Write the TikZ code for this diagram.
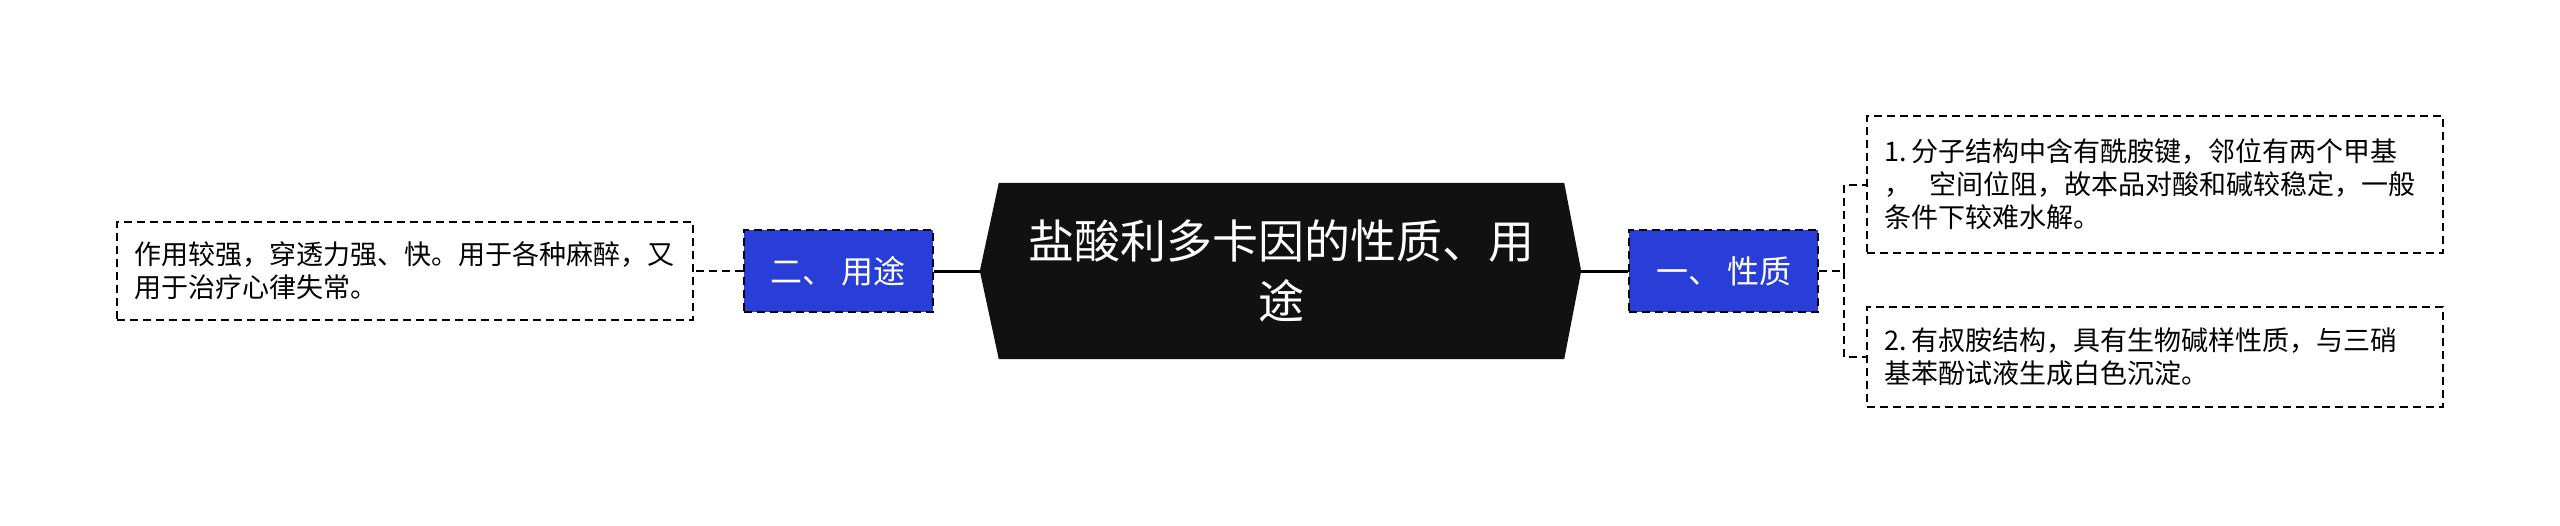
\documentclass[tikz,border=0pt]{standalone}
\usepackage{fontspec}
\setmainfont{Noto Sans CJK SC}
\usetikzlibrary{positioning}
\definecolor{branchblue}{RGB}{40,62,215}
\definecolor{topicblack}{RGB}{17,17,17}
\pgfdeclarelayer{background}
\pgfsetlayers{background,main}

\begin{document}
\begin{tikzpicture}[x=1pt, y=-1pt,
    topic/.style={rectangle, minimum width=565pt, minimum height=176pt, inner sep=0pt, align=center, text=white, font=\fontsize{46pt}{60pt}\selectfont},
    branch/.style={rectangle, draw, dash pattern=on 8pt off 5pt, line width=2pt, fill=branchblue, text=white, minimum width=189pt, minimum height=82pt, inner sep=0pt, font=\fontsize{32pt}{38pt}\selectfont},
    detail/.style={rectangle, draw, dash pattern=on 8pt off 5pt, line width=1.6pt, fill=white, text width=542pt, inner sep=17pt, align=left, font=\fontsize{27pt}{33pt}\selectfont},
    trunk/.style={line width=3pt},
    link/.style={line width=2pt, dash pattern=on 8pt off 5pt},
    node distance=64pt
  ]
    \useasboundingbox (0,0) rectangle (2560,525);

    % Centre topic
    \node[topic] (topic) at (1281.5,271) {盐酸利多卡因的性质、用\\途};
    \coordinate (tipL) at ([xshift=-19pt]topic.west);
    \coordinate (tipR) at ([xshift=17pt]topic.east);
    \begin{pgfonlayer}{background}
      \fill[topicblack] (topic.north west) -- (topic.north east) -- (tipR)
        -- (topic.south east) -- (topic.south west) -- (tipL) -- cycle;
    \end{pgfonlayer}

    % Branches
    \node[branch, right=of topic] (prop) {一、 性质};
    \node[branch, left=65pt of topic] (use) {二、 用途};

    % Details
    \node[detail, left=49pt of use, minimum height=98pt] (useText) {
      作用较强，穿透力强、快。用于各种麻醉，又\\
      用于治疗心律失常。
    };
    \node[detail, right=47pt of prop, yshift=86.5pt, minimum height=137pt] (propOne) {
      1.\hspace{5pt}分子结构中含有酰胺键，邻位有两个甲基\\
      ，\ \ 空间位阻，故本品对酸和碱较稳定，一般\\
      条件下较难水解。
    };
    \node[detail, right=47pt of prop, yshift=-86pt, minimum height=100pt] (propTwo) {
      2.\hspace{5pt}有叔胺结构，具有生物碱样性质，与三硝\\
      基苯酚试液生成白色沉淀。
    };

    % Connectors
    \draw[trunk] (tipL) -- (use.east);
    \draw[trunk] (tipR) -- (prop.west);
    \draw[link] (use.west) -- (useText.east);
    \draw[link] (prop.east) -- ++(25,0) coordinate (fork);
    \draw[link] (fork) |- (propOne.west);
    \draw[link] (fork) |- (propTwo.west);
\end{tikzpicture}
\end{document}
